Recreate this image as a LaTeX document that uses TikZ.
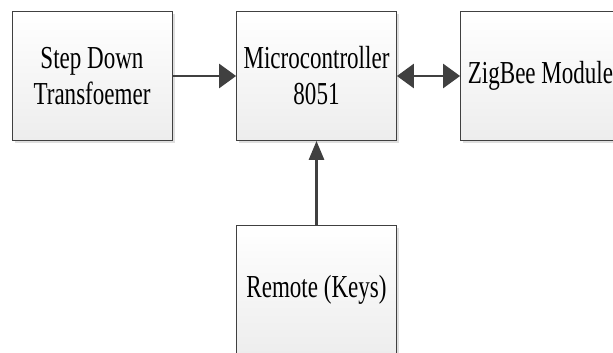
\documentclass[tikz,border=0pt]{standalone}
\usepackage{fontspec}
\setmainfont[FakeStretch=0.72]{Liberation Serif}
\usetikzlibrary{arrows.meta,shadows}
\definecolor{ink}{HTML}{404040}
\definecolor{shade}{HTML}{EDEDED}
\tikzset{block/.style={draw=ink,line width=0.8pt,top color=white,bottom color=shade,minimum width=160pt,minimum height=129pt,align=center,font=\fontsize{32}{36}\selectfont,drop shadow={shadow xshift=2.5pt,shadow yshift=-2.5pt,fill=black!13,opacity=1}},link/.style={draw=ink,line width=2.8pt}}
\begin{document}
\begin{tikzpicture}[x=1pt,y=-1pt]
\useasboundingbox (0,0) rectangle (613,353);
\node[block] (sdt) at (92,76) {Step Down\\Transfoemer};
\node[block] (mcu) at (316.5,76) {Microcontroller\\8051};
\node[block] (zig) at (540.5,76) {ZigBee Module};
\node[block] (rem) at (316.5,290) {Remote (Keys)};
\draw[link,-{Triangle[length=17pt,width=24pt]}] (sdt) -- (mcu);
\draw[link,{Triangle[length=17pt,width=24pt]}-{Triangle[length=17pt,width=24pt]}] (mcu) -- (zig);
\draw[link,-{Triangle[length=19pt,width=15pt]}] (rem) -- (mcu);
\end{tikzpicture}
\end{document}
